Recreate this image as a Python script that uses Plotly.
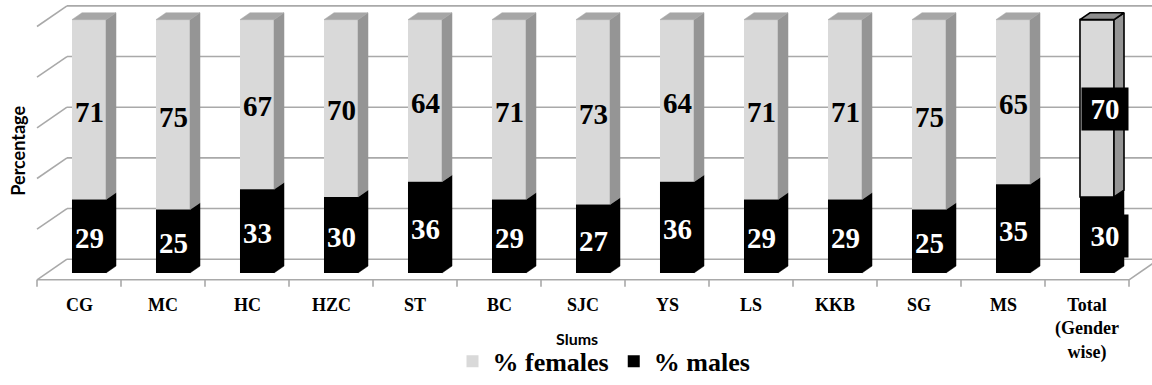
import plotly.graph_objects as go

# Slum-wise gender distribution (%)
categories = ["CG", "MC", "HC", "HZC", "ST", "BC", "SJC", "YS", "LS", "KKB", "SG", "MS",
              "Total<br>(Gender<br>wise)"]
females = [71, 75, 67, 70, 64, 71, 73, 64, 71, 71, 75, 65, 70]
males = [29, 25, 33, 30, 36, 29, 27, 36, 29, 29, 25, 35, 30]
grid_values = [0, 20, 40, 60, 80, 100]

# ---- pseudo-3D frame geometry (axis units) ----
W, H = 1152, 385
PX_CAT, PX_PCT = 84.0, 2.58        # pixels per category / per percent
X0_PX, Y0_PX = 89.0, 278.0         # pixel position of category 0 / 0 % on the bar front plane
BAR_W = 0.405                      # bar width in category units
STEP_X = 10.0 / PX_CAT             # one depth step, horizontal
STEP_Y = 7.0 / PX_PCT              # one depth step, vertical
N = len(categories)

SERIF = "'Liberation Serif', 'Times New Roman', Times, serif"
SANS = "Lato, 'Open Sans', sans-serif"
GRID_COLOR = "#a9a9a9"
F_FRONT, F_SIDE, F_TOP = "#d9d9d9", "#959595", "#a6a6a6"


def dp(x, v, d):
    """Project a point at depth d (0 floor front, 1 bar front, 2 bar back, 3 back wall)."""
    return x + (d - 1) * STEP_X, v + (d - 1) * STEP_Y


def poly(points):
    xs, ys = [], []
    for (x, v, d) in points:
        px, py = dp(x, v, d)
        xs.append(px)
        ys.append(py)
    return xs, ys


def face_trace(polys, fill, line_color=None, line_width=0):
    xs, ys = [], []
    for pts in polys:
        px, py = poly(pts)
        xs += px + [px[0], None]
        ys += py + [py[0], None]
    return go.Scatter(
        x=xs, y=ys, mode="lines", fill="toself", fillcolor=fill,
        line=dict(color=line_color or fill, width=line_width if line_color else 0.5),
        hoverinfo="skip", showlegend=False,
    )


xs = list(range(N))
tops = [m + f for m, f in zip(males, females)]
h = BAR_W / 2

fig = go.Figure()

# front faces
fig.add_trace(go.Bar(
    x=xs, y=females, base=males, width=BAR_W, name="<b>% females</b>",
    marker=dict(color=F_FRONT,
                line=dict(color="black", width=[0] * (N - 1) + [1.6])),
    hoverinfo="skip",
))
fig.add_trace(go.Bar(
    x=xs, y=males, base=[0] * N, width=BAR_W, name="<b>% males</b>",
    marker=dict(color="black", line=dict(width=0)),
    hoverinfo="skip",
))

# side and top faces
male_sides, fem_sides, fem_tops = [], [], []
for i in xs:
    r = i + h
    male_sides.append([(r, 0, 1), (r, 0, 2), (r, males[i], 2), (r, males[i], 1)])
    fem_sides.append([(r, males[i], 1), (r, males[i], 2), (r, tops[i], 2), (r, tops[i], 1)])
    fem_tops.append([(i - h, tops[i], 1), (i - h, tops[i], 2), (r, tops[i], 2), (r, tops[i], 1)])

fig.add_trace(face_trace(male_sides, "black"))
fig.add_trace(face_trace(fem_sides[:-1], F_SIDE))
fig.add_trace(face_trace(fem_tops[:-1], F_TOP))
fig.add_trace(face_trace(fem_sides[-1:], F_SIDE, "black", 1.6))
fig.add_trace(face_trace(fem_tops[-1:], "#8f8f8f", "black", 1.6))

# walls, floor and gridlines
shapes = []


def seg(a, b):
    (x1, y1), (x2, y2) = dp(*a), dp(*b)
    shapes.append(dict(type="line", xref="x", yref="y", x0=x1, y0=y1, x1=x2, y1=y2,
                       layer="below", line=dict(color=GRID_COLOR, width=1.6)))


left, right = -0.5, N - 0.5
for v in grid_values:
    seg((left, v, 0), (left, v, 3))          # side wall
    seg((left, v, 3), (right + 1.0, v, 3))   # back wall
seg((left, 0, 0), (right, 0, 0))             # floor front edge
seg((right, 0, 0), (right, 0, 3))            # floor right edge
for k in range(N + 1):
    b = k - 0.5
    seg((b, 0, 0), (b, -STEP_Y, 0))          # tick marks

annotations = []


def bold(s):
    return "<b>" + s + "</b>"


# value labels
for i in xs:
    fm = males[i] + females[i] / 2
    mm = males[i] / 2
    if i < N - 1:
        annotations.append(dict(x=i, y=fm, xref="x", yref="y", text=bold(str(females[i])),
                                showarrow=False, yshift=-2,
                                font=dict(family=SERIF, size=29, color="black")))
        annotations.append(dict(x=i, y=mm, xref="x", yref="y", text=bold(str(males[i])),
                                showarrow=False, yshift=-2,
                                font=dict(family=SERIF, size=29, color="white")))
    else:
        for val, v in ((females[i], fm), (males[i], mm)):
            annotations.append(dict(x=i, y=v, xref="x", yref="y", text=bold(str(val)),
                                    showarrow=False, xshift=8, yshift=-1,
                                    bgcolor="black", width=42, height=38, borderpad=2,
                                    font=dict(family=SERIF, size=29, color="white")))

# category labels on the floor front
for i, c in enumerate(categories):
    annotations.append(dict(x=i - STEP_X, y=1 - 298 / H, xref="x", yref="paper", text=bold(c),
                            showarrow=False, xanchor="center", yanchor="top",
                            font=dict(family=SERIF, size=18, color="black")))

# axis titles
annotations.append(dict(x=18.5 / W, y=1 - 154 / H, xref="paper", yref="paper",
                        xanchor="center", yanchor="middle",
                        text=bold("Percentage"), textangle=-90, showarrow=False,
                        font=dict(family=SANS, size=18, color="black")))
annotations.append(dict(x=577 / W, y=1 - 345 / H, xref="paper", yref="paper",
                        xanchor="center", yanchor="middle",
                        text=bold("Slums"), showarrow=False,
                        font=dict(family=SANS, size=16, color="black")))

fig.update_layout(
    width=W, height=H,
    margin=dict(l=0, r=0, t=0, b=0),
    paper_bgcolor="white", plot_bgcolor="white",
    barmode="overlay",
    xaxis=dict(range=[-X0_PX / PX_CAT, (W - X0_PX) / PX_CAT], visible=False, fixedrange=True),
    yaxis=dict(range=[(Y0_PX - H) / PX_PCT, Y0_PX / PX_PCT], visible=False, fixedrange=True),
    shapes=shapes,
    annotations=annotations,
    showlegend=True,
    legend=dict(orientation="h", x=604 / W, xanchor="center", y=1 - 368 / H, yanchor="middle",
                traceorder="normal", itemwidth=30, bgcolor="rgba(0,0,0,0)",
                font=dict(family=SERIF, size=26, color="black")),
)

fig.write_html("out.html")
